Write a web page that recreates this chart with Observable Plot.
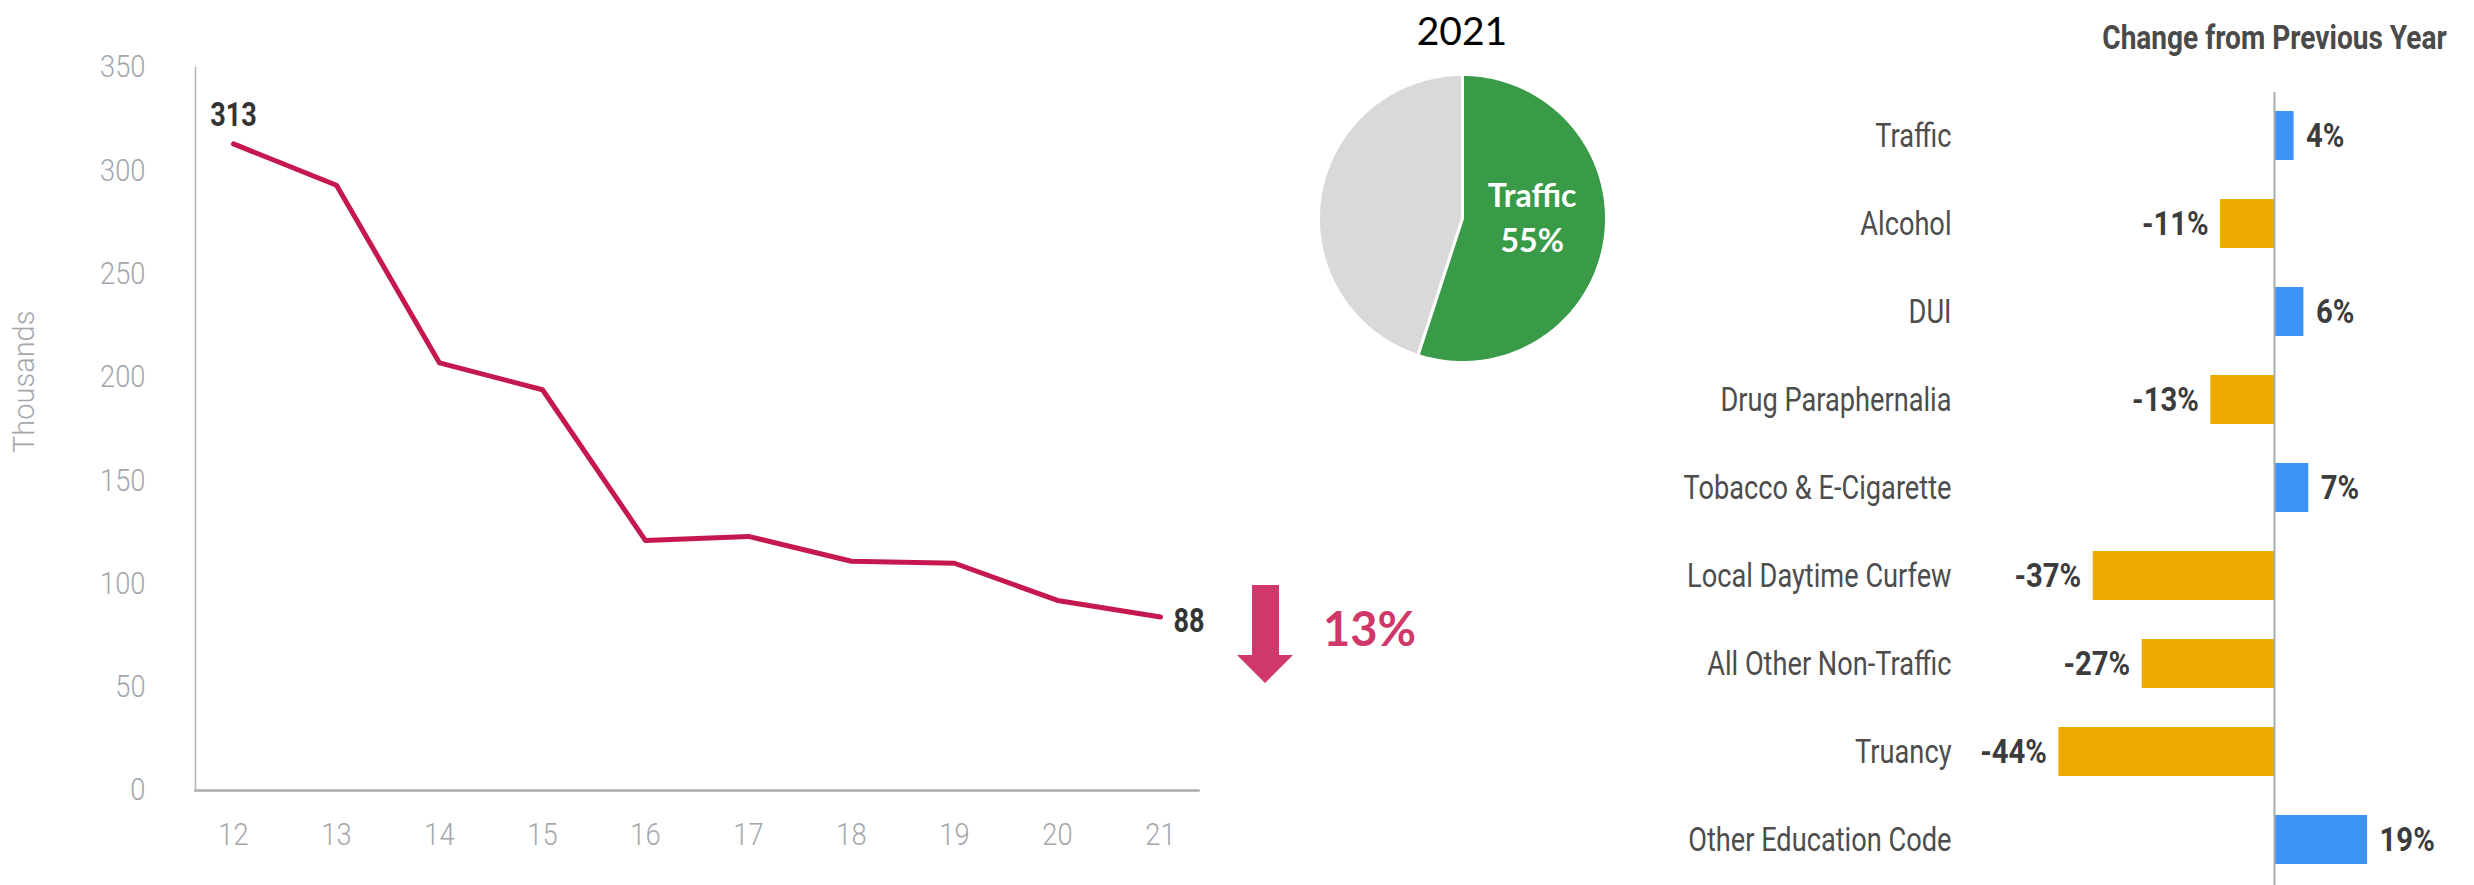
<!DOCTYPE html>
<html><head><meta charset="utf-8">
<script src="https://cdn.jsdelivr.net/npm/d3@7"></script>
<script src="https://cdn.jsdelivr.net/npm/@observablehq/plot@0.6"></script>
<style>
body{margin:0;background:#fff;}
#wrap{position:relative;width:2474px;height:885px;overflow:hidden;font-family:Roboto,sans-serif;}
.panel{position:absolute;top:0;}
.panel svg{overflow:visible;}
#pieTitle{position:absolute;left:1300px;width:324px;top:10px;text-align:center;font-family:Lato,sans-serif;font-size:39px;line-height:40px;color:#000;}
</style></head><body><div id="wrap"></div>
<script>
// ---- data ----
const years = ["12","13","14","15","16","17","18","19","20","21"];
const thousands = [313, 293, 207, 194, 121, 123, 111, 110, 92, 84];
const endLabels = ["313", "88"];
const yTicks = [0, 50, 100, 150, 200, 250, 300, 350];
const yLabel = "Thousands";
const yoyChange = "13%";

const pieYear = "2021";
const pieNames = ["Traffic", "Other"];
const pieShares = [55, 45];
const pieColors = ["#399a47", "#d9d9d9"];

const categories = ["Traffic","Alcohol","DUI","Drug Paraphernalia","Tobacco & E-Cigarette","Local Daytime Curfew","All Other Non-Traffic","Truancy","Other Education Code"];
const changes = [4, -11, 6, -13, 7, -37, -27, -44, 19];
const barTitle = "Change from Previous Year";

// ---- helpers ----
const wrap = document.getElementById("wrap");
function place(node, left, width) {
  const d = document.createElement("div");
  d.className = "panel";
  d.style.left = left + "px";
  d.style.width = width + "px";
  d.appendChild(node);
  wrap.appendChild(d);
  return node;
}
function condense(svg, factor, pred) {
  svg.querySelectorAll("text").forEach(t => {
    if (t.querySelector("tspan")) return;
    if (pred && !pred(t)) return;
    const w = t.getComputedTextLength();
    if (w > 0) {
      t.setAttribute("textLength", (w * factor).toFixed(2));
      t.setAttribute("lengthAdjust", "spacingAndGlyphs");
    }
  });
}

// ---- line chart ----
const lineData = years.map((y, i) => ({year: y, value: thousands[i]}));
const tickColor = "#a3a7ab";
const linePlot = Plot.plot({
  width: 1250, height: 885,
  marginLeft: 195, marginRight: 52, marginTop: 67, marginBottom: 95,
  style: {fontFamily: "Roboto", background: "transparent", overflow: "visible"},
  x: {type: "point", domain: years, padding: 0.34, label: null},
  y: {domain: [0, 350], label: null},
  marks: [
    Plot.axisY(yTicks, {tickSize: 0, tickPadding: 50, fontSize: 31, fontWeight: 300, fill: tickColor, label: null}),
    Plot.axisX({tickSize: 0, tickPadding: 32, fontSize: 31, fontWeight: 300, fill: tickColor, label: null}),
    Plot.frame({anchor: "left", stroke: "#b0b4b8", strokeWidth: 1.5}),
    Plot.frame({anchor: "bottom", stroke: "#a9adb1", strokeWidth: 2.5}),
    Plot.line(lineData, {x: "year", y: "value", stroke: "#c4184f", strokeWidth: 5}),
    Plot.text([lineData[0]], {x: "year", y: "value", text: () => endLabels[0], dy: -28, fontSize: 33, fontWeight: "bold", fill: "#333"}),
    Plot.text([lineData[lineData.length - 1]], {x: "year", y: "value", text: () => endLabels[1], textAnchor: "start", dx: 13, dy: 4, fontSize: 33, fontWeight: "bold", fill: "#333"}),
    Plot.text([yLabel], {frameAnchor: "left", rotate: -90, dx: -171, dy: 24, fontSize: 29, fontWeight: 300, fill: tickColor})
  ]
});
place(linePlot, 0, 1250);
condense(linePlot, 0.88, t => t.textContent !== yLabel && !endLabels.includes(t.textContent));
condense(linePlot, 0.82, t => endLabels.includes(t.textContent));

// ---- arrow annotation overlay ----
const ns = "http://www.w3.org/2000/svg";
const ov = document.createElementNS(ns, "svg");
ov.setAttribute("width", 260); ov.setAttribute("height", 140);
ov.style.position = "absolute"; ov.style.left = "1230px"; ov.style.top = "570px";
const poly = document.createElementNS(ns, "polygon");
poly.setAttribute("points", "22,15 49,15 49,85 63,85 35,113 7,85 22,85");
poly.setAttribute("fill", "#d1386a");
ov.appendChild(poly);
const t13 = document.createElementNS(ns, "text");
t13.setAttribute("x", 93); t13.setAttribute("y", 76);
t13.setAttribute("font-family", "Lato"); t13.setAttribute("font-weight", "bold");
t13.setAttribute("font-size", 47); t13.setAttribute("fill", "#d1386a");
t13.textContent = yoyChange;
ov.appendChild(t13);
wrap.appendChild(ov);

// ---- pie chart ----
const arcs = d3.pie().sort(null).value(d => d)(pieShares);
const pieSlices = arcs.map((a, i) => {
  const pts = [{x: 0, y: 0}];
  const n = Math.max(2, Math.ceil((a.endAngle - a.startAngle) / (Math.PI / 180)));
  for (let k = 0; k <= n; k++) {
    const ang = a.startAngle + (a.endAngle - a.startAngle) * k / n;
    pts.push({x: Math.sin(ang), y: Math.cos(ang)});
  }
  return {name: pieNames[i], color: pieColors[i], share: pieShares[i], pts, mid: (a.startAngle + a.endAngle) / 2};
});
const trafficSlice = pieSlices[0];
const piePlot = Plot.plot({
  width: 324, height: 400,
  marginLeft: 18, marginRight: 18, marginTop: 74, marginBottom: 38,
  style: {background: "transparent", overflow: "visible"},
  x: {domain: [-1, 1], axis: null},
  y: {domain: [-1, 1], axis: null},
  marks: [
    ...pieSlices.slice().reverse().map(s => Plot.line(s.pts, {x: "x", y: "y", curve: "linear-closed", fill: s.color, stroke: "white", strokeWidth: 3})),
    Plot.text([trafficSlice], {
      x: d => 0.49 * Math.sin(d.mid), y: d => 0.49 * Math.cos(d.mid),
      text: d => d.name + "\n" + d.share + "%",
      fill: "white", fontFamily: "Lato", fontWeight: "bold", fontSize: 32, lineHeight: 1.4, dy: -14
    })
  ]
});
place(piePlot, 1300, 324);
const pt = document.createElement("div");
pt.id = "pieTitle";
pt.textContent = pieYear;
wrap.appendChild(pt);

// ---- bar chart ----
const barData = categories.map((c, i) => ({cat: c, v: changes[i], label: changes[i] + "%"}));
const pos = barData.filter(d => d.v >= 0), neg = barData.filter(d => d.v < 0);
const barPlot = Plot.plot({
  width: 874, height: 885,
  marginLeft: 429, marginRight: 53, marginTop: 101, marginBottom: 12,
  style: {fontFamily: "Roboto", background: "transparent", overflow: "visible"},
  x: {domain: [-50, 30], axis: null},
  y: {domain: categories, paddingInner: 0.445, paddingOuter: 0.1, label: null},
  marks: [
    Plot.axisY({tickSize: 0, tickPadding: 78, fontSize: 34, fill: "#4d4d4d", label: null}),
    Plot.barX(pos, {x: "v", y: "cat", fill: "#3d94f6"}),
    Plot.barX(neg, {x: "v", y: "cat", fill: "#edaa00"}),
    Plot.ruleX([0], {stroke: "#a8acb0", strokeWidth: 2, insetTop: -9, insetBottom: -12}),
    Plot.text(pos, {x: "v", y: "cat", text: "label", textAnchor: "start", dx: 12, fontSize: 34, fontWeight: "bold", fill: "#3c3c3c"}),
    Plot.text(neg, {x: "v", y: "cat", text: "label", textAnchor: "end", dx: -12, fontSize: 34, fontWeight: "bold", fill: "#3c3c3c"}),
    Plot.text([barTitle], {x: () => 0, frameAnchor: "top", dy: -76, fontSize: 33, fontWeight: "bold", fill: "#4a4a4a"})
  ]
});
place(barPlot, 1600, 874);
condense(barPlot, 0.80, t => !t.textContent.includes("%") && t.textContent !== barTitle);
condense(barPlot, 0.86, t => t.textContent.includes("%"));
condense(barPlot, 0.85, t => t.textContent === barTitle);
</script></body></html>
